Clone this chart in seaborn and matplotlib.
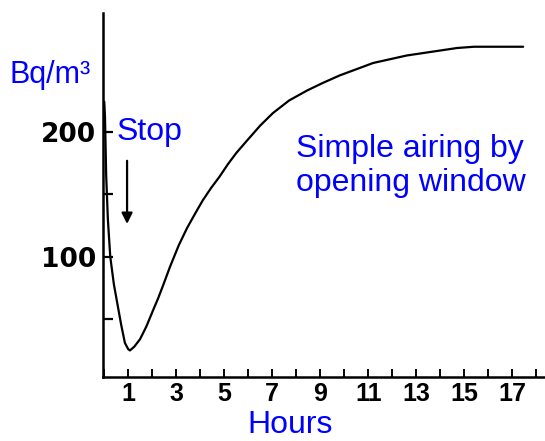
import matplotlib
matplotlib.use("Agg")
import matplotlib.pyplot as plt
import seaborn as sns
import pandas as pd

# radon level after stopping ventilation
hours = [0.0, 0.03, 0.08, 0.15, 0.25, 0.4, 0.55, 0.7, 0.86, 1.0, 1.07, 1.25,
         1.49, 1.75, 2.03, 2.25, 2.45, 2.74, 3.1, 3.45, 3.8, 4.1, 4.45, 4.8,
         5.15, 5.5, 5.95, 6.5, 7.03, 7.7, 8.45, 9.1, 9.8, 10.5, 11.2, 11.9,
         12.6, 13.3, 14.0, 14.7, 15.4, 16.4, 17.45]
bq = [224, 212, 165, 130, 100, 78, 62, 46, 31, 26, 25, 28,
      34, 44, 57, 67, 77, 92, 109, 123, 135, 145, 155, 164,
      174, 183, 193, 205, 215, 225, 233, 239, 245, 250, 255, 258,
      261, 263, 265, 267, 268, 268, 268]

xticks = list(range(0, 19))
xlabels = [str(h) if h % 2 == 1 else "" for h in xticks]
yticks = [50, 100, 150, 200]
ylabels = ["", "100", "", "200"]

df = pd.DataFrame({"hours": hours, "bq": bq})

sns.set_style("ticks")
plt.rcParams["font.family"] = ["Liberation Sans", "DejaVu Sans"]

W, H = 545, 441
fig = plt.figure(figsize=(W / 100, H / 100), dpi=100)
ax = fig.add_axes([103.3 / W, 1 - 376.7 / H, (W - 103.3) / W, 363.7 / H])

sns.lineplot(x="hours", y="bq", data=df, color="black", linewidth=1.6, ax=ax)

ax.set_xlim(-0.04, 18.36)
ax.set_ylim(4, 295)
ax.spines['right'].set_visible(False)
ax.spines['top'].set_visible(False)
ax.spines['left'].set_linewidth(1.8)
ax.spines['bottom'].set_linewidth(1.8)
ax.spines['left'].set_color("black")
ax.spines['bottom'].set_color("black")
ax.set_xlabel("")
ax.set_ylabel("")

ax.set_xticks(xticks)
ax.set_xticklabels(xlabels, fontsize=18, fontweight="bold", family="Liberation Sans")
ax.set_yticks(yticks)
ax.set_yticklabels(ylabels, fontsize=19, fontweight="bold", family="DejaVu Sans")
ax.tick_params(axis="x", direction="in", length=6, width=1.4, pad=4, colors="black")
ax.tick_params(axis="y", direction="in", length=7, width=1.6, pad=5, colors="black")

ax.annotate("", xy=(0.95, 124), xytext=(0.95, 179),
            arrowprops=dict(arrowstyle="-|>", color="black", lw=1.6, mutation_scale=16))

blue = "#0000ff"
def ftext(px, py, s, size=23):
    fig.text(px / W, 1 - py / H, s, color=blue, fontsize=size, va="baseline", ha="left")

ftext(9, 83, "Bq/m³", 22)
ftext(117, 140, "Stop")
ftext(296, 157, "Simple airing by")
ftext(296, 191, "opening window")
ftext(247, 433, "Hours")

fig.savefig("out.png", dpi=100)
